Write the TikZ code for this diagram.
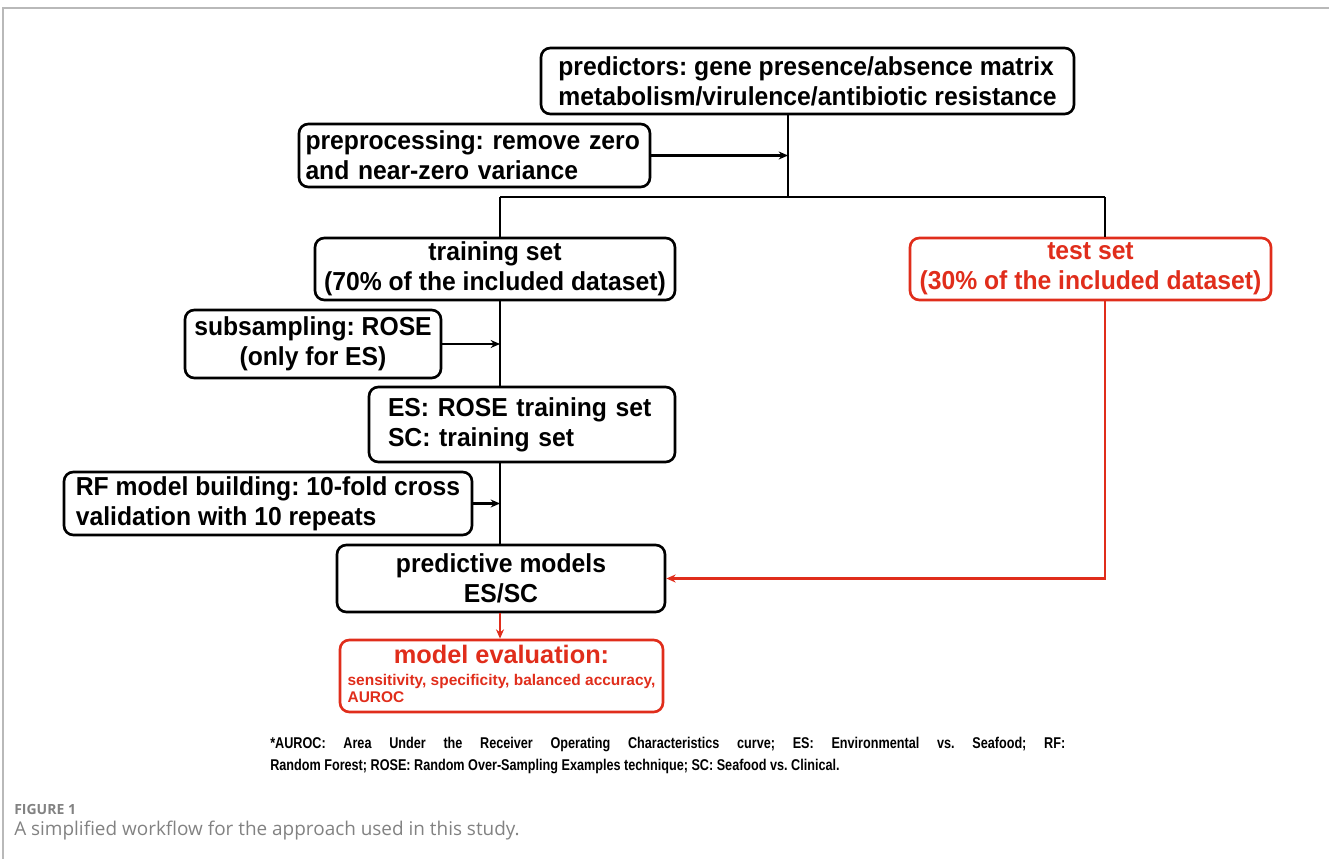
\documentclass[tikz,border=0pt]{standalone}
\usepackage{fontspec}
\setmainfont{Liberation Sans}
\newfontfamily\nb{Liberation Sans Bold}[FakeStretch=0.95]
\newfontfamily\fb{Liberation Sans Bold}[FakeStretch=0.81]
\newfontfamily\wb{Liberation Sans Bold}
\newfontfamily\capfont{Open Sans}
\usetikzlibrary{arrows.meta}
\definecolor{myred}{RGB}{224,45,27}
\definecolor{framegray}{RGB}{185,185,185}
\definecolor{capgray}{RGB}{130,130,130}
\tikzset{
  box/.style={draw=black, line width=2pt, rounded corners=7pt, inner sep=0pt,
    font=\nb\fontsize{19.5}{22.5}\selectfont},
  redbox/.style={box, draw=myred, text=myred},
  conn/.style={line width=1.8pt},
  arr/.style={conn, -{Stealth[length=7pt,width=6pt]}},
  redconn/.style={conn, draw=myred},
  redarr/.style={arr, draw=myred},
}
\begin{document}
\frenchspacing
\begin{tikzpicture}[x=0.75pt,y=-0.75pt]
\useasboundingbox (0,0) rectangle (1329,859);
% frame
\draw[framegray, line width=1.5pt] (3,859) -- (3,8) -- (1329,8);

\node[box, minimum width=533*0.75pt, minimum height=66*0.75pt, align=left] (pred) at (807.5,81)
  {predictors: gene presence/absence matrix\\metabolism/virulence/antibiotic resistance};
\node[box, minimum width=351*0.75pt, minimum height=63*0.75pt, text width=338*0.75pt, align=left] (prep) at (474.5,155.5)
  {preprocessing: remove zero\\and near-zero variance};
\node[box, minimum width=360*0.75pt, minimum height=62*0.75pt, align=center] (train) at (495,269)
  {training set\\(70\% of the included dataset)};
\node[redbox, minimum width=361*0.75pt, minimum height=62*0.75pt, align=center] (test) at (1090.5,269)
  {test set\\(30\% of the included dataset)};
\node[box, minimum width=256*0.75pt, minimum height=68*0.75pt, align=center] (sub) at (313,344)
  {subsampling: ROSE\\(only for ES)};
\node[box, minimum width=306*0.75pt, minimum height=75*0.75pt, text width=268*0.75pt, align=left] (es) at (522,424.5)
  {ES: ROSE training set\\SC: training set};
\node[box, minimum width=408*0.75pt, minimum height=63*0.75pt, align=left] (rf) at (268,503.5)
  {RF model building: 10-fold cross\\validation with 10 repeats};
\node[box, minimum width=328*0.75pt, minimum height=67*0.75pt, align=center] (predm) at (501,578.5)
  {predictive models\\ES/SC};
\node[redbox, minimum width=323*0.75pt, minimum height=72*0.75pt, align=center] (eval) at (501.5,676)
  {{\wb\fontsize{19}{20}\selectfont model evaluation:}\\[1pt]
   {\wb\fontsize{11.6}{12.6}\selectfont\begin{tabular}{@{}l@{}}sensitivity, specificity, balanced accuracy,\\AUROC\end{tabular}}};

% junctions
\coordinate (j1) at (788,197);
\coordinate (jL) at (500,197);
\coordinate (jR) at (1105,197);

\draw[conn] (pred.south -| j1) -- (j1);
\draw[arr] (prep.east) -- (prep.east -| j1);
\draw[conn] (jL) -- (jR);
\draw[conn] (jL) -- (train.north -| jL);
\draw[conn] (jR) -- (test.north -| jR);
\draw[conn] (train.south -| jL) -- (es.north -| jL);
\draw[arr] (sub.east) -- (sub.east -| jL);
\draw[conn] (es.south -| jL) -- (predm.north -| jL);
\draw[arr] (rf.east) -- (rf.east -| jL);
\draw[redarr] (test.south -| jR) |- (predm.east);
\draw[redarr] (predm.south -| jL) -- (eval.north -| jL);

% footnote
\node[anchor=north west, inner sep=0pt, text width=795*0.75pt, align=justify, font=\fb\fontsize{11.7}{16.5}\selectfont] (foot) at (270,737)
  {*AUROC: Area Under the Receiver Operating Characteristics curve; ES: Environmental vs. Seafood; RF:\linebreak Random Forest; ROSE: Random Over-Sampling Examples technique; SC: Seafood vs. Clinical.};

% caption
\node[anchor=west, inner sep=0pt, text=capgray, font=\capfont\bfseries\fontsize{10.5}{12}\selectfont] (figlab) at (14,809) {FIGURE 1};
\node[anchor=west, inner sep=0pt, text=capgray, font=\capfont\fontsize{14.2}{16}\selectfont] (caption) at (14,831) {A simplified workflow for the approach used in this study.};
\end{tikzpicture}
\end{document}
